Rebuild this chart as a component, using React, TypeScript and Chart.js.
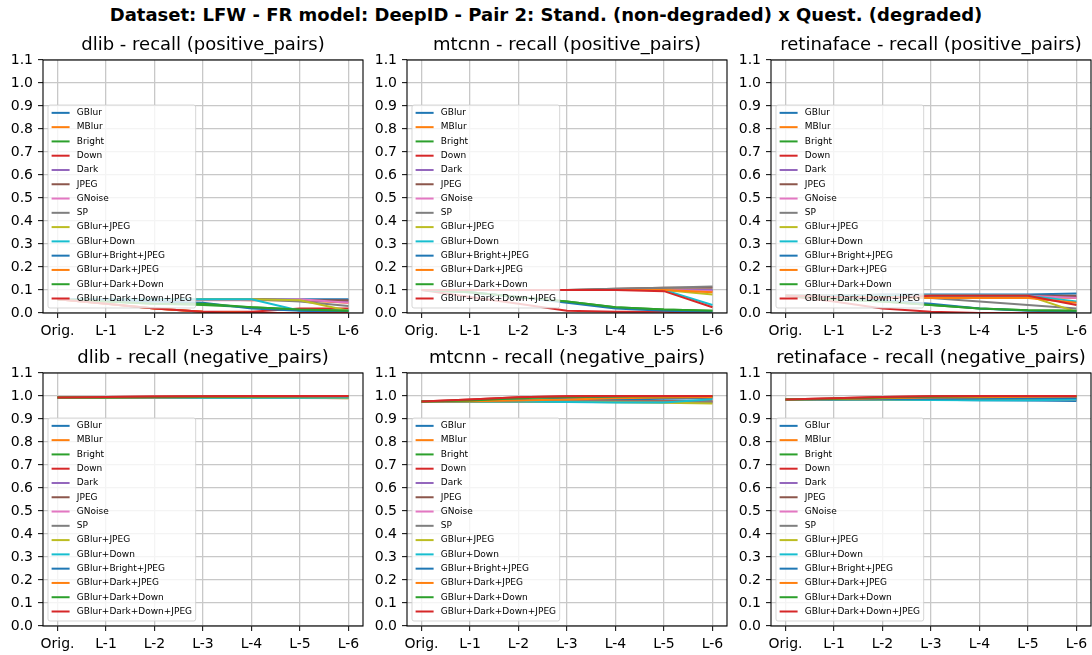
import React, { useEffect, useRef } from "react";
import { Chart, registerables } from "chart.js";

Chart.register(...registerables);

// ---------------- data ----------------
const suptitle =
  "Dataset: LFW - FR model: DeepID - Pair 2: Stand. (non-degraded) x Quest. (degraded)";

const categories = ["Orig.", "L-1", "L-2", "L-3", "L-4", "L-5", "L-6"];

const yTickValues = [0, 0.1, 0.2, 0.3, 0.4, 0.5, 0.6, 0.7, 0.8, 0.9, 1.0, 1.1];

const seriesNames = [
  "GBlur",
  "MBlur",
  "Bright",
  "Down",
  "Dark",
  "JPEG",
  "GNoise",
  "SP",
  "GBlur+JPEG",
  "GBlur+Down",
  "GBlur+Bright+JPEG",
  "GBlur+Dark+JPEG",
  "GBlur+Dark+Down",
  "GBlur+Dark+Down+JPEG",
];

const seriesColors = [
  "#1f77b4",
  "#ff7f0e",
  "#2ca02c",
  "#d62728",
  "#9467bd",
  "#8c564b",
  "#e377c2",
  "#7f7f7f",
  "#bcbd22",
  "#17becf",
  "#1f77b4",
  "#ff7f0e",
  "#2ca02c",
  "#d62728",
];

const dlibPositive = [
  [0.06, 0.06, 0.06, 0.06, 0.06, 0.06, 0.06],
  [0.06, 0.06, 0.06, 0.06, 0.055, 0.055, 0.045],
  [0.06, 0.05, 0.04, 0.035, 0.025, 0.015, 0.01],
  [0.06, 0.04, 0.02, 0.005, 0.005, 0.02, 0.02],
  [0.06, 0.06, 0.06, 0.06, 0.06, 0.055, 0.05],
  [0.06, 0.06, 0.06, 0.06, 0.06, 0.055, 0.055],
  [0.06, 0.06, 0.06, 0.055, 0.055, 0.06, 0.045],
  [0.06, 0.06, 0.06, 0.06, 0.06, 0.05, 0.03],
  [0.06, 0.06, 0.06, 0.06, 0.06, 0.055, 0.01],
  [0.06, 0.06, 0.06, 0.06, 0.06, 0.01, 0.01],
  [0.06, 0.055, 0.05, 0.045, 0.02, 0.01, 0.005],
  [0.06, 0.04, 0.02, 0.005, 0.0, 0.0, 0.0],
  [0.06, 0.05, 0.04, 0.04, 0.025, 0.015, 0.01],
  [0.06, 0.04, 0.02, 0.005, 0.0, 0.0, 0.0],
];

const mtcnnPositive = [
  [0.1, 0.1, 0.1, 0.1, 0.1, 0.1, 0.1],
  [0.1, 0.1, 0.1, 0.1, 0.1, 0.1, 0.095],
  [0.1, 0.09, 0.07, 0.05, 0.025, 0.015, 0.01],
  [0.1, 0.07, 0.04, 0.01, 0.005, 0.005, 0.0],
  [0.1, 0.1, 0.1, 0.1, 0.1, 0.1, 0.1],
  [0.1, 0.1, 0.1, 0.1, 0.105, 0.11, 0.11],
  [0.1, 0.1, 0.1, 0.1, 0.1, 0.1, 0.095],
  [0.1, 0.1, 0.1, 0.1, 0.105, 0.11, 0.115],
  [0.1, 0.1, 0.1, 0.1, 0.1, 0.1, 0.08],
  [0.1, 0.1, 0.1, 0.1, 0.1, 0.1, 0.035],
  [0.1, 0.09, 0.07, 0.045, 0.02, 0.01, 0.005],
  [0.1, 0.1, 0.1, 0.1, 0.1, 0.1, 0.09],
  [0.1, 0.09, 0.07, 0.05, 0.025, 0.015, 0.01],
  [0.1, 0.1, 0.1, 0.1, 0.1, 0.095, 0.025],
];

const retinafacePositive = [
  [0.075, 0.075, 0.08, 0.08, 0.08, 0.08, 0.085],
  [0.075, 0.075, 0.07, 0.07, 0.07, 0.07, 0.065],
  [0.075, 0.06, 0.05, 0.035, 0.02, 0.012, 0.01],
  [0.075, 0.05, 0.02, 0.005, 0.0, 0.0, 0.0],
  [0.075, 0.075, 0.075, 0.075, 0.075, 0.075, 0.07],
  [0.075, 0.075, 0.075, 0.075, 0.075, 0.075, 0.075],
  [0.075, 0.075, 0.075, 0.075, 0.075, 0.075, 0.065],
  [0.075, 0.075, 0.07, 0.065, 0.05, 0.035, 0.02],
  [0.075, 0.075, 0.075, 0.075, 0.075, 0.075, 0.005],
  [0.075, 0.075, 0.075, 0.075, 0.075, 0.075, 0.05],
  [0.075, 0.065, 0.055, 0.04, 0.02, 0.01, 0.005],
  [0.075, 0.07, 0.07, 0.065, 0.065, 0.065, 0.045],
  [0.075, 0.06, 0.05, 0.035, 0.02, 0.012, 0.01],
  [0.075, 0.07, 0.065, 0.075, 0.075, 0.075, 0.035],
];

const dlibNegative = [
  [0.993, 0.993, 0.994, 0.994, 0.994, 0.995, 0.995],
  [0.993, 0.994, 0.995, 0.996, 0.997, 0.998, 0.998],
  [0.993, 0.994, 0.995, 0.996, 0.997, 0.998, 0.999],
  [0.993, 0.996, 0.998, 0.999, 1.0, 1.0, 1.0],
  [0.993, 0.993, 0.993, 0.994, 0.994, 0.994, 0.995],
  [0.993, 0.993, 0.993, 0.993, 0.993, 0.993, 0.992],
  [0.993, 0.993, 0.993, 0.993, 0.992, 0.991, 0.99],
  [0.993, 0.993, 0.993, 0.993, 0.993, 0.992, 0.991],
  [0.993, 0.993, 0.993, 0.993, 0.993, 0.992, 0.99],
  [0.993, 0.993, 0.993, 0.992, 0.992, 0.992, 0.993],
  [0.993, 0.994, 0.995, 0.996, 0.997, 0.998, 0.999],
  [0.993, 0.994, 0.995, 0.996, 0.997, 0.998, 0.999],
  [0.993, 0.994, 0.996, 0.997, 0.998, 0.999, 1.0],
  [0.993, 0.996, 0.998, 0.999, 1.0, 1.0, 1.0],
];

const mtcnnNegative = [
  [0.976, 0.976, 0.977, 0.98, 0.985, 0.988, 0.99],
  [0.976, 0.976, 0.977, 0.978, 0.978, 0.978, 0.978],
  [0.976, 0.978, 0.982, 0.988, 0.992, 0.995, 0.997],
  [0.976, 0.985, 0.995, 0.999, 1.0, 1.0, 1.0],
  [0.976, 0.976, 0.976, 0.976, 0.976, 0.976, 0.976],
  [0.976, 0.976, 0.976, 0.976, 0.976, 0.976, 0.975],
  [0.976, 0.976, 0.976, 0.975, 0.974, 0.973, 0.972],
  [0.976, 0.976, 0.976, 0.976, 0.975, 0.974, 0.973],
  [0.976, 0.976, 0.976, 0.975, 0.973, 0.971, 0.967],
  [0.976, 0.976, 0.976, 0.974, 0.972, 0.972, 0.986],
  [0.976, 0.978, 0.982, 0.988, 0.992, 0.995, 0.997],
  [0.976, 0.977, 0.98, 0.985, 0.99, 0.993, 0.995],
  [0.976, 0.98, 0.99, 0.996, 0.998, 0.999, 1.0],
  [0.976, 0.985, 0.995, 0.999, 1.0, 1.0, 1.0],
];

const retinafaceNegative = [
  [0.985, 0.985, 0.985, 0.984, 0.982, 0.98, 0.978],
  [0.985, 0.986, 0.988, 0.99, 0.992, 0.994, 0.995],
  [0.985, 0.987, 0.99, 0.993, 0.995, 0.996, 0.997],
  [0.985, 0.99, 0.996, 0.999, 1.0, 1.0, 1.0],
  [0.985, 0.985, 0.986, 0.987, 0.988, 0.989, 0.99],
  [0.985, 0.985, 0.985, 0.985, 0.985, 0.985, 0.985],
  [0.985, 0.985, 0.985, 0.984, 0.983, 0.983, 0.983],
  [0.985, 0.985, 0.985, 0.985, 0.984, 0.984, 0.984],
  [0.985, 0.985, 0.985, 0.985, 0.985, 0.988, 0.992],
  [0.985, 0.985, 0.985, 0.983, 0.981, 0.981, 0.985],
  [0.985, 0.986, 0.987, 0.988, 0.989, 0.99, 0.991],
  [0.985, 0.987, 0.99, 0.993, 0.995, 0.997, 0.998],
  [0.985, 0.988, 0.993, 0.997, 0.999, 1.0, 1.0],
  [0.985, 0.99, 0.996, 0.999, 1.0, 1.0, 1.0],
];

const panelTitles = [
  "dlib - recall (positive_pairs)",
  "mtcnn - recall (positive_pairs)",
  "retinaface - recall (positive_pairs)",
  "dlib - recall (negative_pairs)",
  "mtcnn - recall (negative_pairs)",
  "retinaface - recall (negative_pairs)",
];

const panelValues = [
  dlibPositive,
  mtcnnPositive,
  retinafacePositive,
  dlibNegative,
  mtcnnNegative,
  retinafaceNegative,
];

// ---------------- styling ----------------
const FONT = "'DejaVu Sans', 'Liberation Sans', sans-serif";
const GRID = "#c8c8c8";

const framePlugin = {
  id: "mplFrame",
  afterDatasetsDraw(chart: any) {
    const { ctx, chartArea } = chart;
    const { left, top, right, bottom } = chartArea;
    ctx.save();
    ctx.strokeStyle = "#000";
    ctx.lineWidth = 1.1;
    ctx.strokeRect(left, top, right - left, bottom - top);
    ctx.restore();
  },
};

const legendPlugin = {
  id: "mplLegend",
  afterDatasetsDraw(chart: any) {
    const { ctx, chartArea } = chart;
    const fs = 9;
    const pad = 0.4 * fs;
    const handleLen = 2 * fs;
    const textPad = 0.8 * fs;
    const step = 14.28;
    const datasets = chart.data.datasets;
    ctx.save();
    ctx.font = `${fs}px ${FONT}`;
    let textW = 0;
    datasets.forEach((d: any) => {
      textW = Math.max(textW, ctx.measureText(d.label).width);
    });
    const w = pad + handleLen + textPad + textW + pad;
    const h = 7.8 + (datasets.length - 1) * step + 9.5;
    const x0 = chartArea.left + 5;
    const y0 = chartArea.bottom - 5 - h;
    const r = 2;
    ctx.beginPath();
    ctx.moveTo(x0 + r, y0);
    ctx.lineTo(x0 + w - r, y0);
    ctx.arcTo(x0 + w, y0, x0 + w, y0 + r, r);
    ctx.lineTo(x0 + w, y0 + h - r);
    ctx.arcTo(x0 + w, y0 + h, x0 + w - r, y0 + h, r);
    ctx.lineTo(x0 + r, y0 + h);
    ctx.arcTo(x0, y0 + h, x0, y0 + h - r, r);
    ctx.lineTo(x0, y0 + r);
    ctx.arcTo(x0, y0, x0 + r, y0, r);
    ctx.closePath();
    ctx.fillStyle = "rgba(255,255,255,0.8)";
    ctx.fill();
    ctx.strokeStyle = "rgba(204,204,204,0.8)";
    ctx.lineWidth = 1;
    ctx.stroke();
    ctx.textBaseline = "middle";
    ctx.textAlign = "left";
    datasets.forEach((d: any, i: number) => {
      const y = y0 + 7.8 + i * step;
      ctx.beginPath();
      ctx.strokeStyle = d.borderColor;
      ctx.lineWidth = 2;
      ctx.moveTo(x0 + pad, y);
      ctx.lineTo(x0 + pad + handleLen, y);
      ctx.stroke();
      ctx.fillStyle = "#000";
      ctx.fillText(d.label, x0 + pad + handleLen + textPad, y);
    });
    ctx.restore();
  },
};

type PanelProps = {
  title: string;
  values: number[][];
  left: number;
  top: number;
  width: number;
  height: number;
  xAxisHeight: number;
};

function Panel({ title, values, left, top, width, height, xAxisHeight }: PanelProps) {
  const ref = useRef<HTMLCanvasElement>(null);
  useEffect(() => {
    if (!ref.current) return;
    const chart = new Chart(ref.current, {
      type: "line",
      data: {
        datasets: seriesNames.map((name, i) => ({
          label: name,
          data: values[i].map((v, j) => ({ x: j, y: v })),
          borderColor: seriesColors[i],
          backgroundColor: seriesColors[i],
          borderWidth: 2,
          pointRadius: 0,
          pointHoverRadius: 0,
          tension: 0,
          fill: false,
          order: seriesNames.length - 1 - i,
        })),
      },
      options: {
        animation: false,
        responsive: false,
        maintainAspectRatio: false,
        events: [],
        layout: { padding: { left: 0, right: 1, top: 0, bottom: 0 } },
        plugins: {
          legend: { display: false },
          tooltip: { enabled: false },
          title: {
            display: true,
            fullSize: false,
            text: title,
            color: "#000",
            font: { family: FONT, size: 18, weight: "normal" },
            padding: { top: 5, bottom: 3.4 },
          },
        },
        scales: {
          x: {
            type: "linear",
            min: -0.3,
            max: 6.3,
            afterBuildTicks: (s: any) => {
              s.ticks = categories.map((_, i) => ({ value: i }));
            },
            afterFit: (s: any) => {
              s.height = xAxisHeight;
              s.paddingLeft = 0;
              s.paddingRight = 0;
            },
            ticks: {
              autoSkip: false,
              maxRotation: 0,
              minRotation: 0,
              padding: 5,
              color: "#000",
              font: { family: FONT, size: 14 },
              callback: (v: any) => categories[Math.round(Number(v))] ?? "",
            },
            grid: {
              color: GRID,
              lineWidth: 1.3,
              tickColor: "#000",
              tickLength: 5,
              tickWidth: 1,
            },
            border: { display: false },
          },
          y: {
            type: "linear",
            min: 0,
            max: 1.1,
            afterBuildTicks: (s: any) => {
              s.ticks = yTickValues.map((v) => ({ value: v }));
            },
            afterFit: (s: any) => {
              s.width = 43;
            },
            ticks: {
              autoSkip: false,
              padding: 5,
              color: "#000",
              font: { family: FONT, size: 14 },
              callback: (v: any) => Number(v).toFixed(1),
            },
            grid: {
              color: GRID,
              lineWidth: 1.3,
              tickColor: "#000",
              tickLength: 5,
              tickWidth: 1,
            },
            border: { display: false },
          },
        },
      } as any,
      plugins: [framePlugin, legendPlugin],
    });
    return () => chart.destroy();
  }, [title, values, xAxisHeight]);
  return (
    <canvas
      ref={ref}
      width={width}
      height={height}
      style={{ position: "absolute", left, top, width, height, display: "block" }}
    />
  );
}

export default function App() {
  const colLefts = [0, 364, 728];
  const rows = [
    { top: 30, height: 313, xAxisHeight: 30 },
    { top: 343, height: 312, xAxisHeight: 29 },
  ];
  return (
    <div
      style={{
        position: "absolute",
        left: 0,
        top: 0,
        width: 1092,
        height: 655,
        background: "#fff",
        overflow: "hidden",
      }}
    >
      <div
        style={{
          position: "absolute",
          left: 0,
          top: 0,
          width: 1092,
          height: 30,
          lineHeight: "30px",
          textAlign: "center",
          fontFamily: FONT,
          fontWeight: "bold",
          fontSize: 18,
          color: "#000",
          whiteSpace: "nowrap",
        }}
      >
        {suptitle}
      </div>
      {panelTitles.map((t, idx) => {
        const r = rows[Math.floor(idx / 3)];
        return (
          <Panel
            key={t}
            title={t}
            values={panelValues[idx]}
            left={colLefts[idx % 3]}
            top={r.top}
            width={364}
            height={r.height}
            xAxisHeight={r.xAxisHeight}
          />
        );
      })}
    </div>
  );
}
